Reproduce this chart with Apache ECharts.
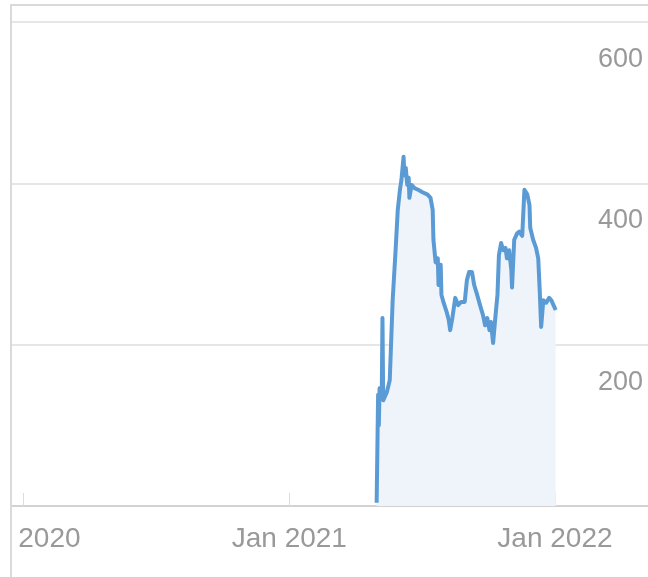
<!DOCTYPE html>
<html><head><meta charset="utf-8">
<script src="https://cdn.jsdelivr.net/npm/echarts@6/dist/echarts.min.js"></script>
<style>
html,body{margin:0;padding:0;width:648px;height:577px;overflow:hidden;background:#fff;}
#frame{position:absolute;left:10px;top:4px;width:720px;height:620px;border-left:2px solid #dadada;border-top:2px solid #dadada;}
#chart{position:absolute;left:0;top:0;width:700px;height:600px;}
</style></head>
<body><div id="frame"><div id="chart"></div></div>
<script>
var dates = ['2021-05-01','2021-05-03','2021-05-04','2021-05-05','2021-05-08','2021-05-09','2021-05-10','2021-05-15','2021-05-19','2021-05-23','2021-05-27','2021-05-30','2021-06-02','2021-06-04','2021-06-07','2021-06-08','2021-06-10','2021-06-12','2021-06-14','2021-06-15','2021-06-18','2021-06-22','2021-06-27','2021-07-03','2021-07-10','2021-07-14','2021-07-17','2021-07-18','2021-07-21','2021-07-24','2021-07-25','2021-07-28','2021-07-29','2021-08-01','2021-08-05','2021-08-08','2021-08-10','2021-08-13','2021-08-17','2021-08-21','2021-08-25','2021-08-30','2021-09-02','2021-09-05','2021-09-09','2021-09-12','2021-09-16','2021-09-20','2021-09-24','2021-09-27','2021-09-30','2021-10-03','2021-10-05','2021-10-08','2021-10-11','2021-10-14','2021-10-16','2021-10-19','2021-10-22','2021-10-25','2021-10-27','2021-10-30','2021-11-02','2021-11-03','2021-11-06','2021-11-10','2021-11-13','2021-11-17','2021-11-20','2021-11-22','2021-11-24','2021-11-27','2021-11-28','2021-12-02','2021-12-06','2021-12-09','2021-12-11','2021-12-13','2021-12-16','2021-12-20','2021-12-24','2021-12-27','2021-12-30','2022-01-02'];
var values = [4,138,100,146,138,233,131,141,156,255,317,367,392,404,433,410,419,398,407,382,398,394,392,389,386,382,367,330,302,307,274,299,262,252,241,231,218,233,258,249,253,253,280,290,290,274,262,249,237,224,233,218,228,202,233,262,311,326,317,320,307,317,293,271,330,338,340,335,392,394,386,373,345,330,320,307,268,222,255,252,258,255,249,243];
var xTickDates = ['2020-01-01','2021-01-01','2022-01-01'];
var xTickLabels = ['Jan 2020','Jan 2021','Jan 2022'];
var xMin = '2019-12-17', xMax = '2022-07-22';
var yMin = 0, yMax = 600, yStep = 200;

function ts(s){ var p = s.split('-'); return new Date(+p[0], +p[1]-1, +p[2]).getTime(); }
var tickTs = xTickDates.map(ts);

var chart = echarts.init(document.getElementById('chart'), null, {renderer:'canvas'});
chart.setOption({
  animation: false,
  backgroundColor: '#fff',
  grid: {left: 0, right: 10, top: 16, bottom: 100, containLabel: false, outerBoundsMode: 'none'},
  xAxis: {
    type: 'value', min: ts(xMin), max: ts(xMax), scale: true,
    splitLine: {show: false},
    axisLine: {show: true, lineStyle: {color: '#d2d2d2', width: 2}},
    axisTick: {show: true, inside: true, length: 13, customValues: tickTs, lineStyle: {color: '#dcdcdc', width: 1}},
    axisLabel: {
      customValues: tickTs, margin: 19, fontSize: 28, color: '#999', fontFamily: 'Liberation Sans, Arial, sans-serif',
      formatter: function(v){ var i = tickTs.indexOf(v); return i >= 0 ? xTickLabels[i] : ''; }
    }
  },
  yAxis: {
    type: 'value', position: 'right', min: yMin, max: yMax, interval: yStep,
    axisLine: {show: false}, axisTick: {show: false},
    splitLine: {show: true, lineStyle: {color: '#e6e6e6', width: 2}},
    axisLabel: {inside: true, align: 'left', verticalAlign: 'top', margin: 104, padding: [24,0,0,0],
      fontSize: 27, lineHeight: 27, color: '#999', fontFamily: 'Liberation Sans, Arial, sans-serif', showMinLabel: false}
  },
  series: [{
    type: 'line', showSymbol: false, symbol: 'none',
    data: dates.map(function(d,i){ return [ts(d), values[i]]; }),
    lineStyle: {color: '#5b9bd5', width: 4, join: 'round'},
    itemStyle: {color: '#5b9bd5'},
    areaStyle: {color: '#eff4fb', opacity: 1}
  }]
});
</script></body></html>
